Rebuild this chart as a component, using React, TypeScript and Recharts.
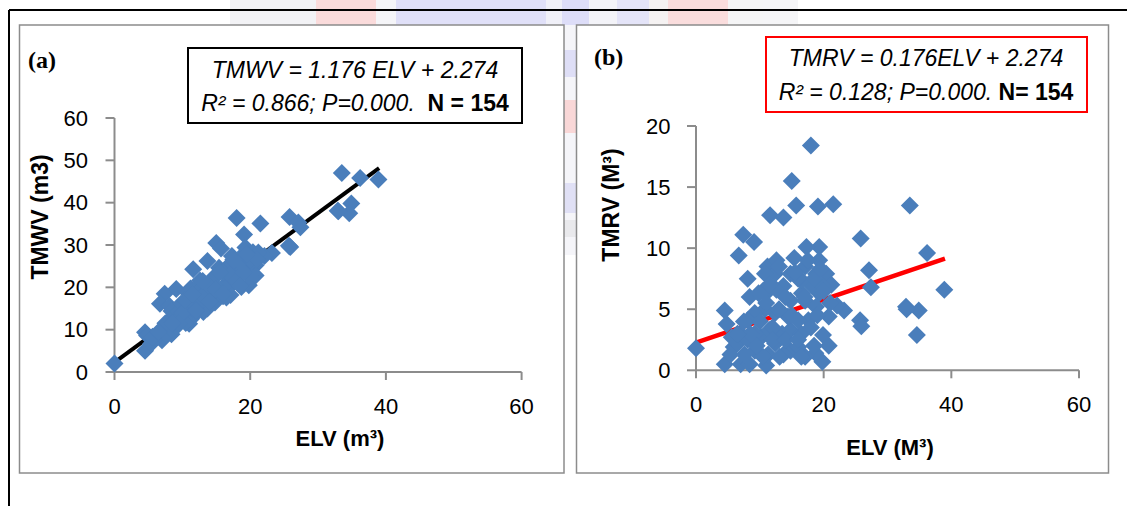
import React from 'react';
import { ScatterChart, Scatter, XAxis, YAxis, ReferenceLine } from 'recharts';

// ELV (m3) for each sample, shared by both panels
const elv = [
  0.0, 18.0, 15.0, 15.7, 19.1, 21.5, 11.6, 13.7, 33.5, 7.4,
  9.1, 6.7, 25.8, 36.2, 38.9, 27.1, 27.4, 32.9, 34.9, 34.6,
  19.3, 17.3, 15.4, 25.7, 25.9, 23.2, 22.1, 20.8, 19.8, 18.7,
  20.8, 19.9, 17.1, 14.8, 11.0, 4.5, 4.5, 4.8, 8.1, 8.4,
  11.2, 12.6, 12.4, 10.8, 17.1, 18.8, 20.4, 21.2, 16.6, 19.3,
  6.5, 7.0, 8.4, 9.2, 10.2, 11.3, 12.4, 13.5, 14.8, 16.5,
  17.6, 16.0, 14.4, 12.4, 10.8, 9.2, 8.1, 7.0, 5.9, 9.8,
  11.5, 13.7, 14.8, 17.1, 18.2, 19.8, 18.8, 11.5, 13.7, 16.0,
  9.2, 7.6, 5.4, 16.5, 10.5, 13.1, 5.6, 8.1, 12.6, 19.3,
  16.5, 14.8, 10.0, 11.0, 12.0, 13.0, 14.0, 15.0, 16.0, 17.0,
  18.0, 19.0, 9.5, 10.5, 12.0, 14.0, 16.0, 18.5, 7.5, 8.5,
  6.5, 11.5, 13.0, 15.5, 17.5, 18.5, 20.0, 21.0, 19.5, 33.0,
];

// panel (a): TMWV (m3)
const tmwv = [
  2.0, 36.4, 30.5, 29.2, 32.5, 35.1, 24.3, 26.2, 47.0, 18.5,
  19.6, 16.1, 36.6, 45.8, 45.5, 35.3, 34.2, 38.1, 39.8, 37.5,
  29.4, 27.4, 24.6, 29.8, 29.5, 28.1, 27.4, 25.2, 20.5, 20.1,
  22.8, 22.8, 18.2, 16.4, 11.4, 5.0, 9.4, 8.6, 15.6, 14.4,
  19.7, 21.6, 20.3, 18.7, 25.6, 26.7, 28.3, 28.2, 22.9, 25.6,
  8.7, 7.5, 8.9, 10.8, 12.9, 12.6, 14.6, 16.5, 18.1, 19.5,
  21.7, 20.1, 18.8, 17.1, 15.8, 13.9, 12.2, 10.0, 7.8, 16.1,
  18.1, 20.6, 20.5, 22.8, 25.1, 26.7, 24.0, 14.8, 15.0, 17.9,
  12.2, 8.9, 6.7, 17.6, 11.6, 14.2, 8.3, 10.6, 19.2, 28.3,
  23.9, 22.7, 14.0, 16.5, 15.5, 18.0, 20.0, 19.5, 23.5, 23.0,
  21.5, 23.5, 11.5, 17.0, 14.5, 16.5, 18.5, 20.5, 11.5, 11.5,
  9.5, 18.5, 21.5, 23.5, 26.5, 26.0, 26.5, 26.5, 27.8, 38.0,
];

// panel (b): TMRV (M3)
const tmrv = [
  1.8, 18.4, 15.5, 13.5, 13.4, 13.6, 12.7, 12.5, 13.5, 11.1,
  10.5, 9.4, 10.8, 9.6, 6.6, 8.2, 6.8, 5.2, 4.9, 2.9,
  10.1, 10.1, 9.2, 4.1, 3.6, 4.9, 5.3, 4.4, 0.7, 1.4,
  2.0, 2.9, 1.1, 1.6, 0.4, 0.5, 4.9, 3.8, 7.5, 6.0,
  8.5, 9.0, 7.9, 7.9, 8.5, 7.9, 7.9, 7.0, 6.3, 6.3,
  2.2, 0.5, 0.5, 1.6, 2.7, 1.3, 2.2, 3.0, 3.3, 3.0,
  4.1, 4.1, 4.4, 4.7, 5.0, 4.7, 4.1, 3.0, 1.9, 6.3,
  6.6, 6.9, 5.7, 5.7, 6.9, 6.9, 5.2, 3.3, 1.3, 1.9,
  3.0, 1.3, 1.3, 1.1, 1.1, 1.1, 2.7, 2.5, 6.6, 9.0,
  7.4, 7.9, 4.0, 5.5, 3.5, 5.0, 6.0, 4.5, 7.5, 6.0,
  3.5, 4.5, 2.0, 6.5, 2.5, 2.5, 2.5, 2.0, 4.0, 3.0,
  3.0, 7.0, 8.5, 8.0, 9.0, 7.5, 6.5, 5.5, 8.3, 5.0,
];

// fitted lines, ends at ELV 0 and 39
const trendElv = [0, 39];
const trendTmwv = [2.274, 48.14];
const trendTmrv = [2.274, 9.14];

const ticksX = [0, 20, 40, 60];
const ticksA = [0, 10, 20, 30, 40, 50, 60];
const ticksB = [0, 5, 10, 15, 20];

const dataA = elv.map((x, i) => ({ elv: x, v: tmwv[i] }));
const dataB = elv.map((x, i) => ({ elv: x, v: tmrv[i] }));

const FONT = '"Liberation Sans", Arial, sans-serif';
const BLUE = '#4A7EBB';
const AXIS = '#8c8c8c';

const Diamond = (props: any) => {
  const { cx, cy } = props;
  if (cx == null || cy == null) return <g />;
  const r = 9;
  return (
    <polygon
      points={`${cx},${cy - r} ${cx + r},${cy} ${cx},${cy + r} ${cx - r},${cy}`}
      fill={BLUE}
    />
  );
};

const tickStyle = { fill: '#000', fontSize: 22, fontFamily: FONT };

const App = () => {
  return (
    <div style={{ position: 'absolute', left: 0, top: 0, width: 1127, height: 506, background: '#fff', overflow: 'hidden' }}>
      {/* page background: faint watermark, outer frame and panel frames */}
      <svg width={1127} height={506} style={{ position: 'absolute', left: 0, top: 0 }}>
        <g opacity={0.75}>
          <rect x={230} y={0} width={86} height={25} fill="#eeeef2" />
          <rect x={316} y={0} width={60} height={25} fill="#f9d0d0" />
          <rect x={376} y={0} width={20} height={25} fill="#f2f2f6" />
          <rect x={396} y={0} width={150} height={25} fill="#d6d6f6" />
          <rect x={546} y={0} width={16} height={25} fill="#ececf6" />
          <rect x={562} y={0} width={27} height={25} fill="#d2d2f6" />
          <rect x={589} y={0} width={28} height={25} fill="#f0f0f6" />
          <rect x={617} y={0} width={32} height={25} fill="#dcdcf6" />
          <rect x={649} y={0} width={19} height={25} fill="#f2eeee" />
          <rect x={668} y={0} width={60} height={25} fill="#f9d2d2" />
          <rect x={728} y={0} width={70} height={25} fill="#f2f2f4" />
          <rect x={564} y={25} width={12} height={230} fill="#f2f2f8" />
          <rect x={564} y={50} width={12} height={27} fill="#d4d4f4" />
          <rect x={564} y={100} width={12} height={33} fill="#f8caca" />
          <rect x={564} y={183} width={12} height={30} fill="#d6d6f2" />
          <rect x={564} y={220} width={12} height={17} fill="#e2e2e6" />
        </g>
        <line x1={9} y1={10} x2={1127} y2={10} stroke="#000" strokeWidth={2} />
        <line x1={9} y1={10} x2={9} y2={506} stroke="#000" strokeWidth={2} />
        <rect x={19.5} y={25} width={544.5} height={448} fill="#fff" stroke="#8c8c8c" strokeWidth={1.5} />
        <rect x={576.5} y={25} width={532} height={448} fill="#fff" stroke="#8c8c8c" strokeWidth={1.5} />
      </svg>

      <div style={{ position: 'absolute', left: 0, top: 0 }}>
        <ScatterChart width={564} height={480} margin={{ top: 118, right: 42.4, bottom: 68, left: 54.5 }}>
          <XAxis
            type="number"
            dataKey="elv"
            domain={[0, 60]}
            ticks={ticksX}
            height={40}
            tickSize={8}
            tickMargin={18}
            tick={tickStyle}
            axisLine={{ stroke: AXIS, strokeWidth: 2 }}
            tickLine={{ stroke: AXIS, strokeWidth: 2 }}
          />
          <YAxis
            type="number"
            dataKey="v"
            domain={[0, 60]}
            ticks={ticksA}
            width={60}
            tickSize={9}
            tickMargin={17.5}
            tick={tickStyle}
            axisLine={{ stroke: AXIS, strokeWidth: 2 }}
            tickLine={{ stroke: AXIS, strokeWidth: 2 }}
          />
          <Scatter data={dataA} shape={Diamond} isAnimationActive={false} />
          <ReferenceLine
            segment={[{ x: trendElv[0], y: trendTmwv[0] }, { x: trendElv[1], y: trendTmwv[1] }]}
            stroke="#000"
            strokeWidth={4}
            ifOverflow="visible"
          />
        </ScatterChart>
      </div>

      <div style={{ position: 'absolute', left: 570, top: 0 }}>
        <ScatterChart width={540} height={480} margin={{ top: 126, right: 31, bottom: 69.7, left: 66 }}>
          <XAxis
            type="number"
            dataKey="elv"
            domain={[0, 60]}
            ticks={ticksX}
            height={40}
            tickSize={8}
            tickMargin={18}
            tick={tickStyle}
            axisLine={{ stroke: AXIS, strokeWidth: 2 }}
            tickLine={{ stroke: AXIS, strokeWidth: 2 }}
          />
          <YAxis
            type="number"
            dataKey="v"
            domain={[0, 20]}
            ticks={ticksB}
            width={60}
            tickSize={9}
            tickMargin={16.5}
            tick={tickStyle}
            axisLine={{ stroke: AXIS, strokeWidth: 2 }}
            tickLine={{ stroke: AXIS, strokeWidth: 2 }}
          />
          <Scatter data={dataB} shape={Diamond} isAnimationActive={false} />
          <ReferenceLine
            segment={[{ x: trendElv[0], y: trendTmrv[0] }, { x: trendElv[1], y: trendTmrv[1] }]}
            stroke="#ff0000"
            strokeWidth={4.5}
            ifOverflow="visible"
          />
        </ScatterChart>
      </div>

      {/* titles, panel letters and regression boxes */}
      <svg width={1127} height={506} style={{ position: 'absolute', left: 0, top: 0, pointerEvents: 'none' }}>
        <text x={28} y={60} dominantBaseline="central" fontFamily='"Liberation Serif", "Times New Roman", serif' fontWeight="bold" fontSize={24}>(a)</text>
        <text x={594} y={57} dominantBaseline="central" fontFamily='"Liberation Serif", "Times New Roman", serif' fontWeight="bold" fontSize={24}>(b)</text>

        <text x={340} y={438} textAnchor="middle" dominantBaseline="central" fontFamily={FONT} fontWeight="bold" fontSize={22}>ELV (m³)</text>
        <text x={890} y={447} textAnchor="middle" dominantBaseline="central" fontFamily={FONT} fontWeight="bold" fontSize={22}>ELV (M³)</text>
        <text x={40} y={217} transform="rotate(-90 40 217)" textAnchor="middle" dominantBaseline="central" fontFamily={FONT} fontWeight="bold" fontSize={23}>TMWV (m3)</text>
        <text x={611} y={205} transform="rotate(-90 611 205)" textAnchor="middle" dominantBaseline="central" fontFamily={FONT} fontWeight="bold" fontSize={23}>TMRV (M³)</text>

        <rect x={188} y={48} width={334} height={75} fill="#fff" stroke="#000" strokeWidth={2} />
        <text x={355} y={70} textAnchor="middle" dominantBaseline="central" fontFamily={FONT} fontStyle="italic" fontSize={23}>TMWV = 1.176 ELV + 2.274</text>
        <text x={355} y={103} textAnchor="middle" dominantBaseline="central" fontFamily={FONT} fontSize={23}>
          <tspan fontStyle="italic">R² = 0.866; P=0.000.{'\u00a0\u00a0'}</tspan>
          <tspan fontWeight="bold">N = 154</tspan>
        </text>

        <rect x={766} y={37} width={321} height={75} fill="#fff" stroke="#ff0000" strokeWidth={2} />
        <text x={926} y={58} textAnchor="middle" dominantBaseline="central" fontFamily={FONT} fontStyle="italic" fontSize={23}>TMRV = 0.176ELV + 2.274</text>
        <text x={926} y={92} textAnchor="middle" dominantBaseline="central" fontFamily={FONT} fontSize={23}>
          <tspan fontStyle="italic">R² = 0.128; P=0.000.{'\u00a0'}</tspan>
          <tspan fontWeight="bold">N= 154</tspan>
        </text>
      </svg>
    </div>
  );
};

export default App;
